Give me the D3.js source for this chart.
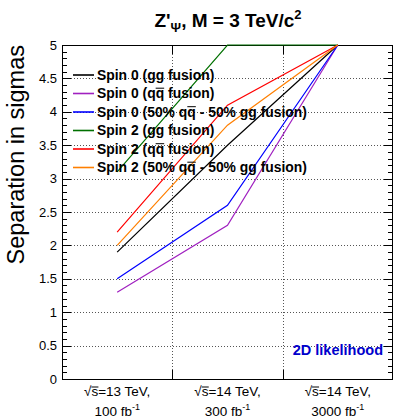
<!DOCTYPE html>
<html>
<head>
<meta charset="utf-8">
<script src="https://cdn.jsdelivr.net/npm/d3@7"></script>
<style>
  html, body { margin: 0; padding: 0; background: #fff; }
  svg { display: block; font-family: "Liberation Sans", Arial, sans-serif; }
</style>
</head>
<body>
<svg id="chart" width="394" height="418"></svg>
<script>
// Scenarios along the x axis (energy, integrated luminosity)
const scenarios = ["13TeV_100", "14TeV_300", "14TeV_3000"];
const energyLabels = ["13", "14", "14"];
const lumiLabels = ["100", "300", "3000"];

// Expected separation (in sigmas) for each hypothesis
const spin0gg    = [1.9, 3.5, 5.0];
const spin0qq    = [1.3, 2.3, 5.0];
const spin0mix   = [1.5, 2.6, 5.0];
const spin2gg    = [3.1, 5.0, 5.0];
const spin2qq    = [2.2, 4.1, 5.0];
const spin2mix   = [2.0, 3.8, 5.0];

const yTicks = [0, 0.5, 1, 1.5, 2, 2.5, 3, 3.5, 4, 4.5, 5];

const series = [
  { key: "s0gg",  values: spin0gg,  color: "#000000", label: ["Spin 0 (gg fusion)"] },
  { key: "s0qq",  values: spin0qq,  color: "#a020c0", label: ["Spin 0 (q", "q", " fusion)"] },
  { key: "s0mix", values: spin0mix, color: "#0000ff", label: ["Spin 0 (50% q", "q", " - 50% gg fusion)"] },
  { key: "s2gg",  values: spin2gg,  color: "#007000", label: ["Spin 2 (gg fusion)"] },
  { key: "s2qq",  values: spin2qq,  color: "#ff0000", label: ["Spin 2 (q", "q", " fusion)"] },
  { key: "s2mix", values: spin2mix, color: "#ff7f00", label: ["Spin 2 (50% q", "q", " - 50% gg fusion)"] }
];

const svg = d3.select("#chart");
const plotL = 62, plotR = 393, plotT = 45, plotB = 379;

const x = d3.scaleBand().domain(scenarios).range([plotL, plotR]).padding(0);
const y = d3.scaleLinear().domain([0, 5]).range([plotB, plotT]);

// Dotted grid
const grid = svg.append("g").attr("stroke", "#555").attr("stroke-width", 1)
  .attr("stroke-dasharray", "1,2");
grid.selectAll("line.h").data(yTicks.filter(d => d > 0 && d < 5)).join("line")
  .attr("x1", plotL).attr("x2", plotR)
  .attr("y1", d => Math.round(y(d)) + 0.5).attr("y2", d => Math.round(y(d)) + 0.5);
grid.selectAll("line.v").data(scenarios.slice(1)).join("line")
  .attr("x1", d => Math.round(x(d)) + 0.5).attr("x2", d => Math.round(x(d)) + 0.5)
  .attr("y1", plotT).attr("y2", plotB);

// Ticks at 0.1 steps on left and right, longer at every 0.5
const minor = d3.range(0, 5.0001, 0.1).map(v => +v.toFixed(1));
const isMajor = v => Math.abs(v * 2 - Math.round(v * 2)) < 1e-6;

svg.append("g").selectAll("line").data(minor).join("line")
  .attr("x1", plotL).attr("x2", d => plotL + (isMajor(d) ? 9 : 5))
  .attr("y1", d => Math.round(y(d)) + 0.5).attr("y2", d => Math.round(y(d)) + 0.5)
  .attr("stroke", "#000");
svg.append("g").selectAll("line").data(minor).join("line")
  .attr("x1", plotR).attr("x2", d => plotR - (isMajor(d) ? 9 : 5))
  .attr("y1", d => Math.round(y(d)) + 0.5).attr("y2", d => Math.round(y(d)) + 0.5)
  .attr("stroke", "#000");

// Y tick labels
svg.append("g").selectAll("text").data(yTicks).join("text")
  .attr("x", 57).attr("y", d => y(d) + 4.5)
  .attr("text-anchor", "end").attr("font-size", 13).attr("fill", "#000")
  .text(d => d3.format("~g")(d));

// Category boundary ticks on bottom and top
svg.append("g").selectAll("line").data(scenarios.slice(1)).join("line")
  .attr("x1", d => Math.round(x(d)) + 0.5).attr("x2", d => Math.round(x(d)) + 0.5)
  .attr("y1", plotB).attr("y2", plotB - 9).attr("stroke", "#000");
svg.append("g").selectAll("line").data(scenarios.slice(1)).join("line")
  .attr("x1", d => Math.round(x(d)) + 0.5).attr("x2", d => Math.round(x(d)) + 0.5)
  .attr("y1", plotT).attr("y2", plotT + 9).attr("stroke", "#000");

// Frame
svg.append("rect").attr("x", plotL + 0.5).attr("y", plotT + 0.5)
  .attr("width", plotR - plotL - 1).attr("height", plotB - plotT)
  .attr("fill", "none").attr("stroke", "#000").attr("stroke-width", 1);

// Draws a bar over the given tspan (used for the radical and anti-quark symbols)
function overbar(textSel, tspanSel, color, dyTop) {
  const bb = tspanSel.node().getBBox();
  textSel.node().parentNode.appendChild(
    d3.create("svg:line")
      .attr("x1", bb.x).attr("x2", bb.x + bb.width)
      .attr("y1", bb.y + dyTop).attr("y2", bb.y + dyTop)
      .attr("stroke", color).attr("stroke-width", 1).node()
  );
}

// X category labels
const xl = svg.append("g").attr("font-size", 13.5).attr("text-anchor", "middle").attr("fill", "#000");
scenarios.forEach((s, i) => {
  const cx = x(s) + x.bandwidth() / 2;
  const t1 = xl.append("text").attr("x", cx).attr("y", 396);
  t1.append("tspan").text("√");
  const sq = t1.append("tspan").text("s");
  t1.append("tspan").text(`=${energyLabels[i]} TeV,`);
  overbar(t1, sq, "#000", 3);
  const t2 = xl.append("text").attr("x", cx).attr("y", 416);
  t2.append("tspan").text(`${lumiLabels[i]} fb`);
  t2.append("tspan").attr("font-size", 9).attr("dy", -6).text("-1");
});

// Series lines
const line = d3.line()
  .x((d, i) => x(scenarios[i]) + x.bandwidth() / 2)
  .y(d => y(d));
svg.append("g").selectAll("path").data(series).join("path")
  .attr("d", d => line(d.values))
  .attr("fill", "none").attr("stroke", d => d.color).attr("stroke-width", 1.2);

// Legend
const lg = svg.append("g");
series.forEach((s, i) => {
  const ly = 75 + i * 18.5;
  lg.append("line").attr("x1", 73).attr("x2", 94).attr("y1", ly).attr("y2", ly)
    .attr("stroke", s.color).attr("stroke-width", 1.6);
  const t = lg.append("text").attr("x", 97).attr("y", ly + 4.7)
    .attr("font-size", 13.9).attr("font-weight", "bold").attr("fill", "#000");
  let bar = null;
  s.label.forEach((part, j) => {
    const ts = t.append("tspan").text(part);
    if (j === 1) bar = ts;
  });
  if (bar) overbar(t, bar, "#000", 3);
});

// Title
const title = svg.append("text").attr("x", 228).attr("y", 27)
  .attr("text-anchor", "middle").attr("font-size", 19).attr("font-weight", "bold").attr("fill", "#000");
title.append("tspan").text("Z'");
title.append("tspan").attr("font-size", 13).attr("dy", 5).text("Ψ");
title.append("tspan").attr("dy", -5).text(", M = 3 TeV/c");
title.append("tspan").attr("font-size", 13).attr("dy", -8).text("2");

// Y axis title
svg.append("text").attr("transform", "translate(24,45) rotate(-90)")
  .attr("text-anchor", "end").attr("font-size", 23.5).attr("fill", "#000")
  .text("Separation in sigmas");

// Annotation
svg.append("text").attr("x", 383).attr("y", 355).attr("text-anchor", "end")
  .attr("font-size", 14.5).attr("font-weight", "bold").attr("fill", "#0000cc")
  .text("2D likelihood");
</script>
</body>
</html>
